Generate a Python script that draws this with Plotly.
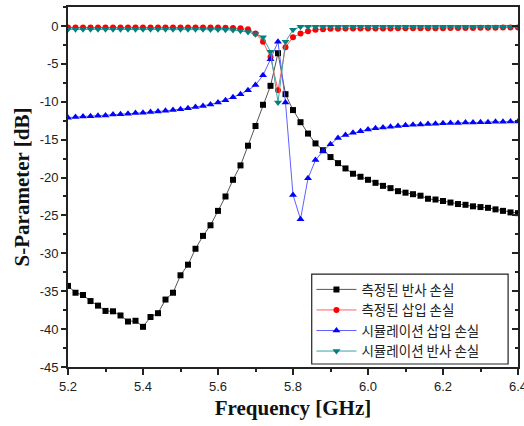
import numpy as np
import plotly.graph_objects as go

freq = [round(5.2 + 0.02 * i, 2) for i in range(61)]

meas_reflection = [
    -34.3, -35.2, -35.5, -36.3, -36.9, -37.6, -37.65, -38.2, -39.0, -38.9,
    -39.7, -38.4, -37.9, -36.1, -35.2, -32.9, -31.5, -29.4, -27.7, -26.3,
    -24.4, -22.5, -20.3, -18.4, -15.8, -13.2, -10.4, -7.9, -3.6, -9.0,
    -11.1, -12.7,
    -14.2, -15.5, -16.4, -17.3, -18.1, -18.8, -19.5, -19.9, -20.3, -20.7,
    -21.1, -21.4, -21.8, -22.0, -22.2, -22.4, -22.8, -22.9, -23.1, -23.3,
    -23.5, -23.6, -23.8, -23.9, -24.0, -24.2, -24.4, -24.6, -24.7,
]

meas_insertion = [
    -0.2, -0.2, -0.2, -0.2, -0.2, -0.2, -0.2, -0.2, -0.2, -0.2,
    -0.2, -0.2, -0.2, -0.2, -0.2, -0.2, -0.2, -0.2, -0.2, -0.22,
    -0.22, -0.25, -0.28, -0.32,
    -0.45, -1.0, -2.1, -4.1, -8.5, -2.8, -1.5, -1.0, -0.7, -0.5, -0.42, -0.38,
    -0.36, -0.35, -0.35, -0.35, -0.34, -0.34, -0.33, -0.33, -0.32, -0.32,
    -0.31, -0.31, -0.3, -0.3, -0.29, -0.28, -0.28, -0.27, -0.26, -0.25,
    -0.24, -0.23, -0.22, -0.21, -0.2,
]

sim_insertion = [
    -12.1, -12.0, -11.95, -11.9, -11.85, -11.8, -11.7, -11.65, -11.6, -11.5,
    -11.45, -11.35, -11.3, -11.2, -11.1, -11.0, -10.85, -10.7, -10.55, -10.35,
    -10.1, -9.8, -9.4, -9.0, -8.5, -7.8, -6.5, -4.4, -2.1,
    -10.1, -22.3, -25.5, -20.1, -17.7, -16.5, -15.6, -14.8, -14.4, -14.1,
    -13.9, -13.65, -13.5, -13.4, -13.3, -13.2, -13.1, -13.05, -13.0, -12.95,
    -12.9, -12.85, -12.8, -12.8, -12.75, -12.75, -12.7, -12.7, -12.65, -12.65,
    -12.6, -12.6,
]

sim_reflection = [
    -0.45, -0.45, -0.45, -0.45, -0.45, -0.45, -0.45, -0.45, -0.45, -0.45,
    -0.45, -0.45, -0.45, -0.45, -0.45, -0.45, -0.45, -0.45, -0.45, -0.47,
    -0.48, -0.5,
    -0.55, -0.65, -0.8, -1.1, -1.5, -3.4, -10.1, -2.1, -0.5, -0.1,
    -0.1, -0.1, -0.1, -0.1, -0.1, -0.1, -0.1, -0.1, -0.1, -0.1,
    -0.1, -0.1, -0.1, -0.1, -0.1, -0.1, -0.1, -0.1, -0.1, -0.1,
    -0.1, -0.1, -0.1, -0.1, -0.1, -0.1, -0.1, -0.1, -0.1,
]

x_ticks = [5.2, 5.4, 5.6, 5.8, 6.0, 6.2, 6.4]
x_ticktext = ["5.2", "5.4", "5.6", "5.8", "6.0", "6.2", "6.4"]
y_ticks = [0, -5, -10, -15, -20, -25, -30, -35, -40, -45]
y_ticktext = ["0", "-5", "-10", "-15", "-20", "-25", "-30", "-35", "-40", "-45"]

names = ["측정된 반사 손실", "측정된 삽입 손실", "시뮬레이션 삽입 손실", "시뮬레이션 반사 손실"]
series = [meas_reflection, meas_insertion, sim_insertion, sim_reflection]
colors = ["#000000", "#ff0000", "#0000ff", "#008080"]
line_colors = ["#555555", "#ff6060", "#6060ff", "#40a0a0"]
symbols = ["square", "circle", "triangle-up", "triangle-down"]
sizes = [6, 6, 7, 7]

fig = go.Figure()
for n, s, c, lc, sym, sz in zip(names, series, colors, line_colors, symbols, sizes):
    fig.add_trace(go.Scatter(
        x=freq, y=s, name=n, mode="lines+markers",
        line=dict(color=lc, width=1),
        marker=dict(symbol=sym, color=c, size=sz, line=dict(width=0)),
    ))

# invisible trace on right axis for inside ticks
fig.add_trace(go.Scatter(x=[freq[0]], y=[None], yaxis="y2", showlegend=False,
                         hoverinfo="skip", mode="markers"))

tickfont = dict(family="Liberation Sans, Arial", size=13, color="#222222")
titlefont = dict(family="Liberation Serif, Times New Roman", size=21, color="#111111")

fig.update_layout(
    width=524, height=426,
    margin=dict(l=68, r=6, t=7, b=59, autoexpand=False),
    paper_bgcolor="white", plot_bgcolor="white",
    xaxis=dict(
        range=[5.2, 6.4], tickmode="array",
        tickvals=x_ticks, ticktext=x_ticktext, ticklabeloverflow="allow",
        ticks="outside", ticklen=6, tickwidth=1.5, tickcolor="#222",
        minor=dict(dtick=0.1, tick0=5.2, ticks="outside", ticklen=3, tickcolor="#222"),
        showgrid=False, zeroline=False, automargin=False,
        showline=True, linecolor="#222", linewidth=1.8, mirror=True,
        tickfont=tickfont,
        title=dict(text="<b>Frequency [GHz]</b>", font=titlefont, standoff=8),
    ),
    yaxis=dict(
        range=[-45, 2.5], tickmode="array",
        tickvals=y_ticks, ticktext=y_ticktext,
        ticks="outside", ticklen=5, tickwidth=1.5, tickcolor="#222",
        minor=dict(dtick=2.5, tick0=0, ticks="outside", ticklen=3, tickcolor="#222"),
        showgrid=False, zeroline=False, automargin=False,
        showline=True, linecolor="#222", linewidth=1.8, mirror=True,
        tickfont=tickfont,
        title=dict(text="<b>S-Parameter [dB]</b>", font=titlefont, standoff=4),
    ),
    yaxis2=dict(
        range=[-45, 2.5], overlaying="y", side="right", automargin=False,
        tickmode="array", tickvals=y_ticks,
        showticklabels=False, ticks="inside", ticklen=6, tickwidth=1.5, tickcolor="#222",
        minor=dict(dtick=2.5, tick0=0, ticks="inside", ticklen=3, tickcolor="#222"),
        showgrid=False, zeroline=False, showline=False,
    ),
    legend=dict(
        x=0.541, y=0.258, xanchor="left", yanchor="top",
        bgcolor="rgba(0,0,0,0)", borderwidth=0,
        font=dict(family="Noto Sans CJK KR", size=13.5, color="#222"),
        tracegroupgap=0, itemwidth=40,
    ),
    shapes=[dict(
        type="rect", xref="paper", yref="paper",
        x0=0.5416, x1=0.978, y0=0.0083, y1=0.258,
        line=dict(color="#222", width=1.2), fillcolor="white", layer="above",
    )],
    showlegend=True,
)

fig.write_html("out.html", config={"displayModeBar": False},
               post_script="document.body.style.margin='0';")
